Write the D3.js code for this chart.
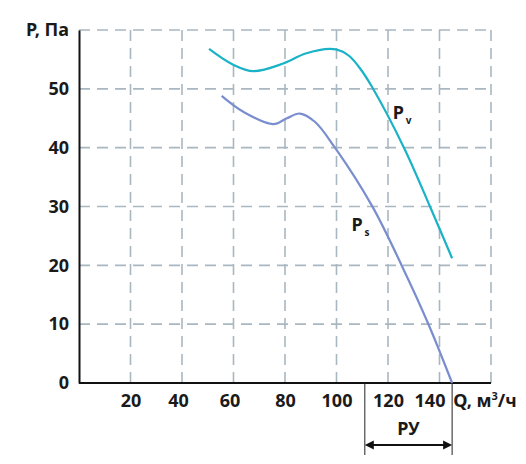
<!DOCTYPE html>
<html>
<head>
<meta charset="utf-8">
<script src="https://cdn.jsdelivr.net/npm/d3@7"></script>
<style>
  body { margin: 0; background: #fff; }
  text { font-family: "Noto Sans", sans-serif; font-weight: bold; fill: #1a1a1a; }
</style>
</head>
<body>
<div id="chart"></div>
<script>
// flow Q (m3/h) and pressure P (Pa)
const pvQ = [50.5, 59.9, 67.7, 79.3, 88, 97.5, 102, 105.2, 109.1, 113.7, 126.2, 136.3, 144.9];
const pvP = [56.8, 54.1, 53.0, 54.3, 56.0, 56.8, 56.4, 55.5, 53.5, 50.4, 40, 30, 21.2];
const psQ = [55.4, 63.8, 75.5, 80.7, 85.8, 91.6, 99.4, 113.8, 125.4, 135.5, 144.9];
const psP = [48.8, 46.1, 44.0, 45.0, 45.8, 44.4, 40, 30.1, 19.9, 10.2, 0];
const xTicks = [20, 40, 60, 80, 100, 120, 140];
const yTicks = [0, 10, 20, 30, 40, 50];
const ruRange = [111, 144.9];

const W = 526, H = 464;
const margin = {top: 30, right: 35, bottom: 81, left: 79};

const svg = d3.select("#chart").append("svg")
    .attr("width", W)
    .attr("height", H);

const x = d3.scaleLinear().domain([0, 160]).range([margin.left, W - margin.right]);
const y = d3.scaleLinear().domain([0, 60]).range([H - margin.bottom, margin.top]);

// dashed grid
const gridColor = "#a9b7c1";
svg.append("g").selectAll("line.gx")
  .data(d3.range(20, 161, 20))
  .join("line")
    .attr("x1", d => x(d)).attr("x2", d => x(d))
    .attr("y1", y(0)).attr("y2", y(60))
    .attr("stroke", gridColor)
    .attr("stroke-width", 1.6)
    .attr("stroke-dasharray", "11,7");

svg.append("g").selectAll("line.gy")
  .data(d3.range(10, 61, 10))
  .join("line")
    .attr("x1", x(0)).attr("x2", x(160))
    .attr("y1", d => y(d)).attr("y2", d => y(d))
    .attr("stroke", gridColor)
    .attr("stroke-width", 1.6)
    .attr("stroke-dasharray", "11,7");

// axes
const yAxis = svg.append("g")
    .attr("transform", `translate(${x(0)},0)`)
    .call(d3.axisLeft(y).tickValues(yTicks).tickSize(0).tickPadding(10));
yAxis.select(".domain").attr("stroke", "#111").attr("stroke-width", 2);
yAxis.selectAll("text").attr("font-size", 18).attr("font-family", "Noto Sans").attr("font-weight", "bold").attr("fill", "#1a1a1a");

const xAxis = svg.append("g")
    .attr("transform", `translate(0,${y(0)})`)
    .call(d3.axisBottom(x).tickValues(xTicks).tickSize(0).tickPadding(11));
xAxis.select(".domain").attr("stroke", "#111").attr("stroke-width", 2)
    .attr("d", `M${x(0)},0H${x(160)}`);
xAxis.selectAll("text").attr("font-size", 18).attr("font-family", "Noto Sans").attr("font-weight", "bold").attr("fill", "#1a1a1a")
    .attr("dx", d => d === 140 ? -10 : (d === 40 || d === 60) ? -4 : 0);

svg.append("text")
    .attr("x", x(0) - 10).attr("y", y(60) + 6)
    .attr("text-anchor", "end")
    .attr("font-size", 18)
    .text("P, Па");

const qLabel = svg.append("text")
    .attr("x", x(145.3)).attr("y", y(0) + 24)
    .attr("font-size", 18);
qLabel.append("tspan").text("Q, м");
qLabel.append("tspan").attr("font-size", 11).attr("dy", -7).text("3");
qLabel.append("tspan").attr("dy", 7).text("/ч");

// curves
const line = d3.line()
    .x(d => x(d[0]))
    .y(d => y(d[1]))
    .curve(d3.curveCatmullRom.alpha(0.5));

svg.append("path")
    .datum(pvQ.map((q, i) => [q, pvP[i]]))
    .attr("d", line)
    .attr("fill", "none")
    .attr("stroke", "#19b2c6")
    .attr("stroke-width", 2.2);

svg.append("path")
    .datum(psQ.map((q, i) => [q, psP[i]]))
    .attr("d", line)
    .attr("fill", "none")
    .attr("stroke", "#7a8ecf")
    .attr("stroke-width", 2.2);

function curveLabel(qx, py, sub) {
  const t = svg.append("text")
      .attr("x", x(qx)).attr("y", y(py))
      .attr("font-size", 18);
  t.append("tspan").text("P");
  t.append("tspan").attr("font-size", 10).attr("dy", 5).attr("dx", 2).text(sub);
}
curveLabel(121.8, 44.9, "v");
curveLabel(105.8, 25.8, "s");

// РУ range bracket
const ru = svg.append("g");
ruRange.forEach(q => {
  ru.append("line")
    .attr("x1", x(q)).attr("x2", x(q))
    .attr("y1", y(0)).attr("y2", y(0) + 72)
    .attr("stroke", "#222").attr("stroke-width", 1);
});
const ay = y(0) + 62;
ru.append("line")
    .attr("x1", x(ruRange[0]) + 4).attr("x2", x(ruRange[1]) - 4)
    .attr("y1", ay).attr("y2", ay)
    .attr("stroke", "#111").attr("stroke-width", 2);
[[ruRange[0], 1], [ruRange[1], -1]].forEach(([q, s]) => {
  const px = x(q);
  ru.append("path")
    .attr("d", `M${px},${ay}L${px + s * 9},${ay - 4.5}L${px + s * 9},${ay + 4.5}Z`)
    .attr("fill", "#111");
});
ru.append("text")
    .attr("x", (x(ruRange[0]) + x(ruRange[1])) / 2).attr("y", ay - 10)
    .attr("text-anchor", "middle")
    .attr("font-size", 18)
    .text("РУ");
</script>
</body>
</html>
